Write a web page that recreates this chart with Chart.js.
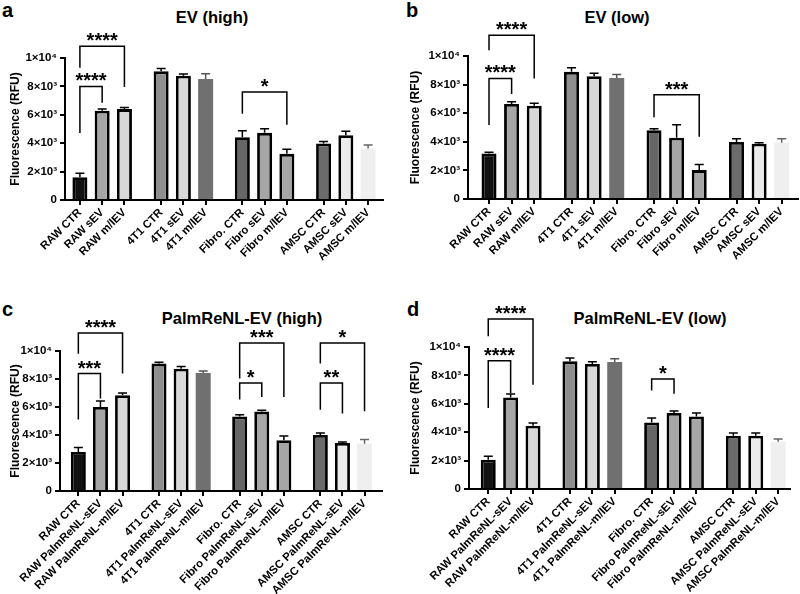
<!DOCTYPE html>
<html>
<head>
<meta charset="utf-8">
<script src="https://cdn.jsdelivr.net/npm/chart.js@4.4.1/dist/chart.umd.min.js"></script>
<style>
    body { margin: 0; background: #fff; width: 800px; height: 594px; position: relative; overflow: hidden;
           font-family: "Liberation Sans", Arial, sans-serif; color: #000; }
    .panel { position: absolute; width: 400px; height: 297px; }
    .letter { position: absolute; font-weight: bold; font-size: 20px; line-height: 1; }
    .title { position: absolute; font-weight: bold; font-size: 16.5px; line-height: 1; transform: translateX(-50%); white-space: nowrap; }
</style>
</head>
<body>
<div class="letter" style="left:2px;top:0px">a</div>
<div class="letter" style="left:406px;top:0px">b</div>
<div class="letter" style="left:2px;top:299px">c</div>
<div class="letter" style="left:407px;top:299px">d</div>
<div class="title" style="left:212px;top:9px">EV (high)</div>
<div class="title" style="left:617px;top:9px">EV (low)</div>
<div class="title" style="left:242px;top:310px">PalmReNL-EV (high)</div>
<div class="title" style="left:650px;top:310px">PalmReNL-EV (low)</div>

<div class="panel" style="left:0;top:0"><canvas id="chart-a" width="400" height="297"></canvas></div>
<div class="panel" style="left:400px;top:0"><canvas id="chart-b" width="400" height="297"></canvas></div>
<div class="panel" style="left:0;top:297px"><canvas id="chart-c" width="400" height="297"></canvas></div>
<div class="panel" style="left:400px;top:297px"><canvas id="chart-d" width="400" height="297"></canvas></div>

<script>
// 类别标签
const labelsEV = ['RAW CTR', 'RAW sEV', 'RAW m/lEV', '4T1 CTR', '4T1 sEV', '4T1 m/lEV',
                  'Fibro. CTR', 'Fibro sEV', 'Fibro m/lEV', 'AMSC CTR', 'AMSC sEV', 'AMSC m/lEV'];
const labelsPalm = ['RAW CTR', 'RAW PalmReNL-sEV', 'RAW PalmReNL-m/lEV',
                    '4T1 CTR', '4T1 PalmReNL-sEV', '4T1 PalmReNL-m/lEV',
                    'Fibro. CTR', 'Fibro PalmReNL-sEV', 'Fibro PalmReNL-m/lEV',
                    'AMSC CTR', 'AMSC PalmReNL-sEV', 'AMSC PalmReNL-m/lEV'];

// 平均值 / 误差 (RFU)
const meanA = [1600, 6280, 6400, 9060, 8750, 8520, 4420, 4730, 3250, 3980, 4560, 3620];
const errA  = [280, 120, 110, 200, 120, 370, 450, 280, 330, 140, 290, 260];
const meanB = [3180, 6640, 6520, 8890, 8590, 8470, 4810, 4290, 2020, 3990, 3870, 3940];
const errB  = [90, 160, 170, 280, 210, 240, 110, 910, 390, 230, 70, 280];
const meanC = [2790, 6000, 6840, 9100, 8740, 8430, 5330, 5670, 3620, 4000, 3430, 3380];
const errC  = [310, 430, 160, 90, 150, 140, 120, 90, 310, 140, 70, 290];
const meanD = [2060, 6450, 4460, 8990, 8800, 8940, 4690, 5350, 5110, 3750, 3750, 3330];
const errD  = [240, 240, 190, 230, 160, 240, 310, 140, 240, 190, 190, 190];

// 显著性标记: [from, to, top, leftEnd, rightEnd, stars]
const sigA = [[0, 2, 10820, 9320, 7950, '****'], [0, 1, 8000, 4710, 6850, '****'], [6, 8, 7600, 6070, 5300, '*']];
const sigB = [[0, 2, 11450, 10400, 8430, '****'], [0, 1, 8430, 5180, 7340, '****'], [6, 8, 7290, 5710, 4360, '***']];
const sigC = [[0, 2, 11290, 9810, 8390, '****'], [0, 1, 8390, 5100, 6600, '***'],
              [6, 8, 10570, 8030, 6710, '***'], [6, 7, 7710, 6530, 6710, '*'],
              [9, 11, 10570, 9100, 5690, '*'], [9, 10, 7710, 5810, 5530, '**']];
const sigD = [[0, 2, 11970, 10750, 7350, '****'], [0, 1, 9040, 5700, 6760, '****'], [6, 7, 7750, 6940, 6710, '*']];

// y轴刻度
const yTicks = [0, 2000, 4000, 6000, 8000, 10000];
const yTickLabels = ['0', '2×10³', '4×10³', '6×10³', '8×10³', '1×10⁴'];

// 样式
const fills = ['#111111', '#a6a6a6', '#d8d8d8', '#8e8e8e', '#d8d8d8', '#707070',
               '#666666', '#a6a6a6', '#a6a6a6', '#6b6b6b', '#ebebeb', '#efefef'];
const borders = [2.8, 2.8, 2.8, 2.8, 2.8, 0, 2.8, 2.8, 2.8, 2.8, 2.8, 0];
const errColors = ['#000', '#000', '#000', '#000', '#000', '#555', '#000', '#000', '#000', '#000', '#000', '#666'];
const FONT = '"Liberation Sans", Arial, sans-serif';

// 组间留空
const xPos = labelsEV.map((_, i) => i + Math.floor(i / 3) * 0.65);

const overlay = {
    id: 'overlay',
    afterDraw(chart, args, opts) {
        const { ctx } = chart;
        const x = chart.scales.x, y = chart.scales.y;
        const meta = chart.getDatasetMeta(0);
        ctx.save();
        ctx.lineWidth = 1.5;
        meta.data.forEach((bar, i) => {
            const top = y.getPixelForValue(opts.means[i] + opts.errs[i]);
            ctx.strokeStyle = errColors[i];
            ctx.beginPath();
            ctx.moveTo(bar.x, bar.y);
            ctx.lineTo(bar.x, top);
            ctx.moveTo(bar.x - 4.5, top);
            ctx.lineTo(bar.x + 4.5, top);
            ctx.stroke();
        });
        ctx.strokeStyle = '#000';
        ctx.fillStyle = '#000';
        ctx.font = 'bold 20px ' + FONT;
        ctx.textAlign = 'center';
        ctx.textBaseline = 'alphabetic';
        opts.sig.forEach(([a, b, top, l1, l2, txt]) => {
            const x1 = x.getPixelForValue(xPos[a]);
            const x2 = x.getPixelForValue(xPos[b]);
            const yt = y.getPixelForValue(top);
            ctx.beginPath();
            ctx.moveTo(x1, y.getPixelForValue(l1));
            ctx.lineTo(x1, yt);
            ctx.lineTo(x2, yt);
            ctx.lineTo(x2, y.getPixelForValue(l2));
            ctx.stroke();
            ctx.fillText(txt, (x1 + x2) / 2, yt + 1);
        });
        ctx.restore();
    }
};

function makeChart(id, labels, means, errs, sig, box) {
    return new Chart(document.getElementById(id), {
        type: 'bar',
        data: {
            datasets: [{
                data: xPos.map((v, i) => ({ x: v, y: means[i] })),
                backgroundColor: fills,
                borderColor: '#000',
                borderWidth: borders,
                borderSkipped: 'start',
                inflateAmount: 0,
                barThickness: 15
            }]
        },
        options: {
            responsive: false,
            animation: false,
            devicePixelRatio: 1,
            layout: { padding: { left: 0, right: 400 - box.right, top: box.top, bottom: 0 } },
            plugins: {
                legend: { display: false },
                tooltip: { enabled: false },
                overlay: { means, errs, sig }
            },
            scales: {
                x: {
                    type: 'linear',
                    min: box.xMin,
                    max: box.xMax,
                    offset: false,
                    z: 1,
                    afterFit: s => { s.height = 297 - box.bottom; },
                    afterBuildTicks: s => { s.ticks = xPos.map(v => ({ value: v })); },
                    ticks: {
                        autoSkip: false,
                        minRotation: 45,
                        maxRotation: 45,
                        padding: 1,
                        color: '#000',
                        font: { family: FONT, weight: 'bold', size: 11.3 },
                        callback: (v, i) => labels[i]
                    },
                    grid: { drawOnChartArea: false, drawTicks: true, tickLength: 5, color: '#000', lineWidth: 2, offset: false },
                    border: { display: true, color: '#000', width: 2 }
                },
                y: {
                    min: 0,
                    max: 10000,
                    z: 1,
                    afterFit: s => { s.width = box.left; },
                    afterBuildTicks: s => { s.ticks = yTicks.map(v => ({ value: v })); },
                    ticks: {
                        padding: 3,
                        color: '#000',
                        font: { family: FONT, weight: 'bold', size: 11.5 },
                        callback: (v, i) => yTickLabels[i]
                    },
                    title: {
                        display: true,
                        text: 'Fluorescence (RFU)',
                        color: '#000',
                        font: { family: FONT, weight: 'bold', size: 12 },
                        padding: { top: 8, bottom: 0 }
                    },
                    grid: { drawOnChartArea: false, drawTicks: true, tickLength: 5, color: '#000', lineWidth: 2 },
                    border: { display: true, color: '#000', width: 2 }
                }
            }
        },
        plugins: [overlay]
    });
}

makeChart('chart-a', labelsEV, meanA, errA, sigA, { left: 65, right: 383, top: 58, bottom: 200, xMin: -0.67, xMax: 13.62 });
makeChart('chart-b', labelsEV, meanB, errB, sigB, { left: 68, right: 398, top: 56, bottom: 199, xMin: -0.93, xMax: 13.67 });
makeChart('chart-c', labelsPalm, meanC, errC, sigC, { left: 60, right: 382, top: 54, bottom: 194, xMin: -0.83, xMax: 13.74 });
makeChart('chart-d', labelsPalm, meanD, errD, sigD, { left: 69, right: 390, top: 50, bottom: 192, xMin: -0.86, xMax: 13.48 });
</script>
</body>
</html>
